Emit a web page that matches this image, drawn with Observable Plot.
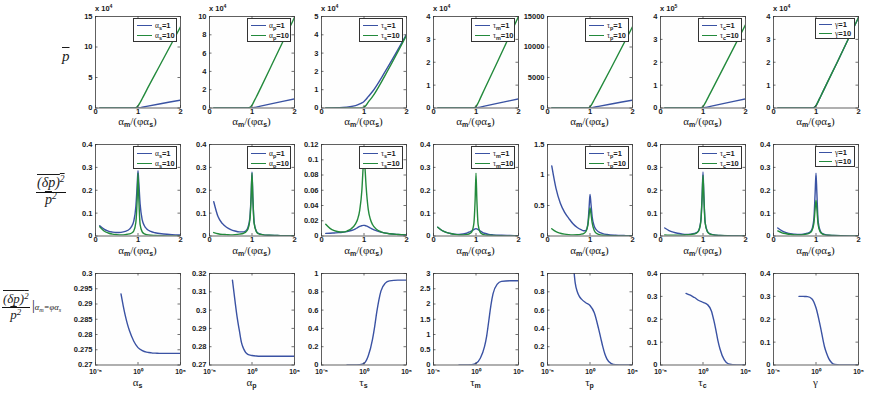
<!DOCTYPE html>
<html><head><meta charset="utf-8">
<script src="https://cdn.jsdelivr.net/npm/d3@7"></script>
<script src="https://cdn.jsdelivr.net/npm/@observablehq/plot@0.6"></script>
<style>
body{margin:0;background:#fff;}
#fig{position:relative;width:872px;height:395px;overflow:hidden;background:#fff;font-family:"Liberation Sans",Arial,sans-serif;color:#1a1a1a;}
.legend{position:absolute;box-sizing:border-box;background:#fff;border:0.8px solid #333;}
.entry{position:absolute;left:3px;height:10px;display:flex;align-items:center;font:bold 7.5px "Liberation Sans",Arial,sans-serif;white-space:nowrap;}
.sw{width:15px;height:0;border-top:1.6px solid;margin-right:3px;}
.gk{font-family:"Liberation Serif","DejaVu Serif",serif;font-weight:normal;}
sub{font-size:0.72em;vertical-align:-0.35em;line-height:0;}
sup{font-size:0.68em;vertical-align:0.5em;line-height:0;}
.mult{position:absolute;font:bold 7.5px "Liberation Sans",Arial,sans-serif;white-space:nowrap;}
.xt{position:absolute;transform:translate(-50%,-50%);white-space:nowrap;font:11px/1 "Liberation Serif",serif;}
.xt sub{font:bold 7px "Liberation Sans",Arial,sans-serif;vertical-align:-0.4em;line-height:0;}
.rl{position:absolute;font:italic 15px "Liberation Serif","DejaVu Serif",serif;line-height:1;white-space:nowrap;}
.frac{position:absolute;text-align:center;font:italic 14px "Liberation Serif","DejaVu Serif",serif;line-height:1.05;}
.frac .num{border-bottom:0.9px solid #111;padding:0 1px 1px;}
.ov{text-decoration:overline;text-decoration-thickness:0.8px;}
</style>
</head><body><div id="fig"></div>
<script>
// ---------------- DATA ----------------
const PARAM_SYMBOL = ["α","α","τ","τ","τ","τ","γ"];
const PARAM_SUB    = ["s","p","s","m","p","c",""];
const LEGEND_VALUES = ["1","10"];

// Row 1: mean p vs alpha_m/(phi alpha_s); values in units of 10^MEAN_EXPONENT
const X_MEAN = [0.1,0.5,0.8,0.9,0.95,1.0,1.05,1.1,1.2,1.5,2.0];
const MEAN_EXPONENT = [4,4,4,4,null,5,4];
const MEAN_Y_MAX = [15,10,5,4,15000,4,4];
const MEAN_Y_TICKS = [[0,5,10,15],[0,2,4,6,8,10],[0,1,2,3,4,5],[0,1,2,3,4],[0,5000,10000,15000],[0,1,2,3,4],[0,1,2,3,4]];
const mean_as_1  = [0,0,0,0,0,0,0.06,0.13,0.26,0.65,1.3];
const mean_as_10 = [0,0,0,0,0.05,0.35,0.9,1.55,2.9,6.8,13.3];
const mean_ap_1  = [0,0,0,0,0,0,0.05,0.1,0.2,0.5,1.0];
const mean_ap_10 = [0,0,0,0,0.06,0.32,0.75,1.2,2.15,5.05,9.9];
const mean_ts_1  = [0,0.03,0.13,0.22,0.28,0.36,0.48,0.62,0.9,2.0,4.02];
const mean_ts_10 = [0,0,0,0.005,0.015,0.05,0.15,0.32,0.62,1.8,3.97];
const mean_tm_1  = [0,0,0,0,0,0,0.02,0.04,0.08,0.2,0.4];
const mean_tm_10 = [0,0,0,0,0.01,0.06,0.22,0.42,0.82,2.0,4.0];
const mean_tp_1  = [0,0,0,0,0,0,65,130,260,650,1300];
const mean_tp_10 = [0,0,0,0,15,200,700,1350,2650,6600,13300];
const mean_tc_1  = [0,0,0,0,0,0,0.02,0.04,0.08,0.2,0.4];
const mean_tc_10 = [0,0,0,0,0.01,0.06,0.21,0.39,0.75,1.83,3.64];
const mean_g_1   = [0,0,0,0,0.02,0.1,0.28,0.47,0.86,2.0,3.95];
const mean_g_10  = [0,0,0,0,0.02,0.1,0.28,0.47,0.86,2.0,3.96];

// Row 2: relative variance vs alpha_m/(phi alpha_s)
const X_VAR = [0.1,0.2,0.3,0.4,0.5,0.6,0.7,0.8,0.85,0.9,0.95,0.98,1.0,1.02,1.05,1.1,1.15,1.2,1.3,1.4,1.6,1.8,2.0];
const VAR_Y_MAX = [0.4,0.4,0.12,0.4,1.5,0.4,0.4];
const VAR_Y_TICKS = [[0,0.1,0.2,0.3,0.4],[0,0.1,0.2,0.3,0.4],[0,0.02,0.04,0.06,0.08,0.1,0.12],[0,0.1,0.2,0.3,0.4],[0,0.5,1,1.5],[0,0.1,0.2,0.3,0.4],[0,0.1,0.2,0.3,0.4]];
const var_as_1  = [0.045,0.03,0.021,0.017,0.015,0.016,0.02,0.03,0.042,0.065,0.13,0.22,0.285,0.23,0.14,0.07,0.045,0.032,0.02,0.014,0.009,0.006,0.004];
const var_as_10 = [0.04,0.022,0.013,0.008,0.006,0.005,0.006,0.009,0.013,0.022,0.06,0.16,0.275,0.16,0.05,0.018,0.009,0.006,0.003,0.002,0.001,0.0005,0.0003];
const var_ap_1  = [0.15,0.085,0.055,0.038,0.028,0.022,0.018,0.018,0.022,0.035,0.08,0.18,0.28,0.17,0.06,0.022,0.012,0.008,0.004,0.003,0.002,0.001,0.001];
const var_ap_10 = [0.015,0.01,0.007,0.006,0.005,0.006,0.008,0.012,0.017,0.028,0.07,0.17,0.275,0.165,0.055,0.02,0.01,0.007,0.004,0.003,0.002,0.001,0.001];
const var_ts_1  = [0.0034,0.0036,0.004,0.0044,0.005,0.0058,0.0072,0.0095,0.011,0.0125,0.0135,0.014,0.014,0.0138,0.0133,0.012,0.0105,0.009,0.0068,0.005,0.003,0.002,0.0013];
const var_ts_10 = [0.0154,0.01,0.007,0.0056,0.0052,0.0065,0.0095,0.016,0.022,0.034,0.06,0.09,0.104,0.092,0.065,0.035,0.022,0.015,0.0085,0.0055,0.003,0.002,0.0015];
const var_tm_1  = [0.038,0.024,0.016,0.011,0.008,0.007,0.009,0.014,0.018,0.022,0.028,0.031,0.032,0.031,0.028,0.022,0.016,0.012,0.007,0.005,0.003,0.002,0.001];
const var_tm_10 = [0.038,0.024,0.016,0.011,0.007,0.005,0.005,0.007,0.01,0.018,0.055,0.16,0.275,0.16,0.05,0.016,0.008,0.005,0.003,0.002,0.001,0.0005,0.0003];
const var_tp_1  = [1.15,0.78,0.54,0.39,0.29,0.2,0.14,0.1,0.085,0.09,0.2,0.48,0.68,0.55,0.32,0.16,0.1,0.07,0.04,0.025,0.012,0.007,0.004];
const var_tp_10 = [0.12,0.07,0.045,0.03,0.022,0.019,0.02,0.03,0.04,0.07,0.18,0.36,0.46,0.38,0.22,0.09,0.045,0.028,0.012,0.007,0.003,0.002,0.001];
const var_tc_1  = [0.035,0.024,0.017,0.012,0.009,0.007,0.008,0.011,0.015,0.025,0.07,0.18,0.28,0.18,0.06,0.022,0.011,0.007,0.004,0.002,0.001,0.001,0.0005];
const var_tc_10 = [0.005,0.004,0.004,0.004,0.004,0.005,0.006,0.009,0.013,0.023,0.065,0.17,0.265,0.17,0.058,0.02,0.01,0.006,0.003,0.002,0.001,0.0005,0.0003];
const var_g_1   = [0.035,0.022,0.015,0.01,0.008,0.007,0.008,0.012,0.016,0.027,0.075,0.19,0.275,0.19,0.065,0.022,0.011,0.007,0.003,0.002,0.001,0.0006,0.0004];
const var_g_10  = [0.022,0.014,0.01,0.007,0.005,0.005,0.006,0.009,0.013,0.022,0.055,0.12,0.155,0.12,0.05,0.018,0.009,0.005,0.003,0.002,0.001,0.0005,0.0003];

// Row 3: relative variance at alpha_m = phi alpha_s vs parameter (log x)
const X_SENS = [5e-3,1e-2,1.8e-2,3.2e-2,5.6e-2,0.1,0.32,1,3.2,10,18,32,56,100,320,1e3,1e4,1e5];
const SENS_X_TICKS = [1e-5,1,1e5];
const SENS_X_TICK_LABELS = ["10⁻⁵","10⁰","10⁵"];
const SENS_Y_DOMAIN = [[0.27,0.3],[0.27,0.32],[0,1],[0,3],[0,1],[0,0.4],[0,0.4]];
const SENS_Y_TICKS = [[0.27,0.275,0.28,0.285,0.29,0.295,0.3],[0.27,0.28,0.29,0.3,0.31,0.32],[0,0.2,0.4,0.6,0.8,1],[0,0.5,1,1.5,2,2.5,3],[0,0.2,0.4,0.6,0.8,1],[0,0.1,0.2,0.3,0.4],[0,0.1,0.2,0.3,0.4]];
const sens_as = [null,0.2933,0.2895,0.2862,0.2835,0.2812,0.2778,0.2757,0.2747,0.2742,0.2741,0.274,0.2739,0.2739,0.2738,0.2738,0.2738,0.2738];
const sens_ap = [0.3164,0.305,0.296,0.289,0.2825,0.279,0.2758,0.2752,0.2749,0.2748,0.2748,0.2748,0.2748,0.2748,0.2748,0.2748,0.2748,0.2748];
const sens_ts = [null,0,0,0,0,0.001,0.004,0.017,0.1,0.28,0.42,0.58,0.71,0.81,0.895,0.92,0.928,0.928];
const sens_tm = [null,0,0,0,0,0.002,0.01,0.05,0.22,0.6,0.95,1.45,1.95,2.33,2.65,2.74,2.76,2.76];
const sens_tp = [null,1.15,0.9,0.8,0.75,0.72,0.68,0.65,0.57,0.4,0.3,0.2,0.12,0.065,0.015,0.002,0,0];
const sens_tc = [null,0.313,0.309,0.305,0.3,0.295,0.282,0.274,0.265,0.235,0.198,0.155,0.108,0.07,0.022,0.005,0.0003,0];
const sens_g  = [null,0.3,0.3,0.3,0.2995,0.299,0.29,0.25,0.17,0.08,0.05,0.028,0.014,0.005,0.001,0,0,0];

const MEAN_SERIES = [[mean_as_1,mean_as_10],[mean_ap_1,mean_ap_10],[mean_ts_1,mean_ts_10],[mean_tm_1,mean_tm_10],[mean_tp_1,mean_tp_10],[mean_tc_1,mean_tc_10],[mean_g_1,mean_g_10]];
const VAR_SERIES = [[var_as_1,var_as_10],[var_ap_1,var_ap_10],[var_ts_1,var_ts_10],[var_tm_1,var_tm_10],[var_tp_1,var_tp_10],[var_tc_1,var_tc_10],[var_g_1,var_g_10]];
const SENS_SERIES = [sens_as,sens_ap,sens_ts,sens_tm,sens_tp,sens_tc,sens_g];
const LIN_X_TICKS = [0,1,2];

// ---------------- LAYOUT / STYLE ----------------
const COLORS = ["#3a52a3","#238a3c"];
const COL_LEFT = [95,209,321,433,547,660,773];
const ROW_TOP = [15.5,143.5,272.5];
const FW = 85, FH = 91.5;
const ML = 30, MR = 12, MT = 6, MB = 16;
const fig = document.getElementById("fig");
const fmtNum = d => String(+d.toFixed(6));

function el(tag, cls, html, left, top) {
  const e = document.createElement(tag);
  if (cls) e.className = cls;
  if (html != null) e.innerHTML = html;
  e.style.position = "absolute";
  e.style.left = left + "px"; e.style.top = top + "px";
  fig.appendChild(e);
  return e;
}

function panel(row, col, xs, xScale, xTicks, xFmt, yDomain, yTicks, yFmt, series, pad, xFont) {
  const data = series.map((vals, k) => xs.map((x, i) => ({x, y: vals[i], k})));
  const plot = Plot.plot({
    width: FW + ML + MR, height: FH + MT + MB,
    marginLeft: ML, marginRight: MR, marginTop: MT, marginBottom: MB,
    x: {...xScale, label: null},
    y: {domain: yDomain, label: null},
    style: {background: "transparent", overflow: "visible", fontFamily: "Liberation Sans, Arial, sans-serif", fontSize: "7.5px", fontWeight: "bold", color: "#1a1a1a"},
    marks: [
      Plot.frame({fill: "#fefefe"}),
      ...data.map((d, k) => Plot.line(d, {x: "x", y: "y", stroke: series.length > 1 ? COLORS[k] : COLORS[0], strokeWidth: 1.4, curve: "monotone-x", clip: true})),
      Plot.ruleX(xTicks, {insetTop: FH - 2.5, stroke: "#333", strokeWidth: 0.7}),
      Plot.ruleX(xTicks, {insetBottom: FH - 2.5, stroke: "#333", strokeWidth: 0.7}),
      Plot.ruleY(yTicks, {insetRight: FW - 2.5, stroke: "#333", strokeWidth: 0.7}),
      Plot.ruleY(yTicks, {insetLeft: FW - 2.5, stroke: "#333", strokeWidth: 0.7}),
      Plot.axisX(xTicks, {tickSize: 0, tickPadding: pad, tickFormat: xFmt, label: null, fontSize: xFont}),
      Plot.axisY(yTicks, {tickSize: 0, tickPadding: 3, tickFormat: yFmt, label: null}),
      Plot.frame({stroke: "#3a3a3a", strokeWidth: 0.8})
    ]
  });
  plot.style.position = "absolute";
  plot.style.left = (COL_LEFT[col] - ML) + "px";
  plot.style.top = (ROW_TOP[row] - MT) + "px";
  fig.appendChild(plot);
}

function legend(row, col) {
  const narrow = PARAM_SUB[col] === "";
  const w = narrow ? 40 : 44, h = narrow ? 21 : (row === 0 ? 24 : 23);
  const box = el("div", "legend", null, COL_LEFT[col] + FW - 3 - w, ROW_TOP[row] + 2);
  box.style.width = w + "px"; box.style.height = h + "px";
  LEGEND_VALUES.forEach((v, k) => {
    const e = document.createElement("div");
    e.className = "entry";
    e.style.top = (narrow ? 1 + k * 9 : 1.5 + k * 10.5) + "px";
    const sub = PARAM_SUB[col] ? `<sub>${PARAM_SUB[col]}</sub>` : "";
    e.innerHTML = `<span class="sw" style="border-color:${COLORS[k]};${narrow ? "width:13px" : ""}"></span><span><span class="gk">${PARAM_SYMBOL[col]}</span>${sub}=${v}</span>`;
    box.appendChild(e);
  });
}

const XTITLE = `<span class="gk">α</span><sub>m</sub>/(<span class="gk">φα</span><sub>s</sub>)`;

for (let c = 0; c < 7; c++) {
  // Row 1
  panel(0, c, X_MEAN, {domain: [0, 2]}, LIN_X_TICKS, fmtNum, [0, MEAN_Y_MAX[c]], MEAN_Y_TICKS[c], fmtNum, MEAN_SERIES[c], 1, 7.5);
  legend(0, c);
  if (MEAN_EXPONENT[c] != null) el("div", "mult", `x 10<sup>${MEAN_EXPONENT[c]}</sup>`, COL_LEFT[c], ROW_TOP[0] - 12);
  el("div", "xt", XTITLE, COL_LEFT[c] + FW / 2, ROW_TOP[0] + FH + 14);
  // Row 2
  panel(1, c, X_VAR, {domain: [0, 2]}, LIN_X_TICKS, fmtNum, [0, VAR_Y_MAX[c]], VAR_Y_TICKS[c], fmtNum, VAR_SERIES[c], 1, 7.5);
  legend(1, c);
  el("div", "xt", XTITLE, COL_LEFT[c] + FW / 2, ROW_TOP[1] + FH + 14.5);
  // Row 3
  panel(2, c, X_SENS, {type: "log", domain: [1e-5, 1e5]}, SENS_X_TICKS, d => SENS_X_TICK_LABELS[SENS_X_TICKS.indexOf(d)], SENS_Y_DOMAIN[c], SENS_Y_TICKS[c], fmtNum, [SENS_SERIES[c]], 4.5, 6.8);
  const sub = PARAM_SUB[c] ? `<sub>${PARAM_SUB[c]}</sub>` : "";
  el("div", "xt", `<span class="gk">${PARAM_SYMBOL[c]}</span>${sub}`, COL_LEFT[c] + FW / 2, ROW_TOP[2] + FH + 17.5);
}

// Row labels
el("div", "rl", `<span class="ov">p</span>`, 62, 49);
el("div", "frac", `<div class="num"><span class="ov">(δp)<sup>2</sup></span></div><div><span class="ov">p</span><sup>2</sup></div>`, 36, 176);
el("div", "frac", `<div class="num"><span class="ov">(δp)<sup>2</sup></span></div><div><span class="ov">p</span><sup>2</sup></div>`, 2, 292).style.fontSize = "13px";
el("div", "rl", `<span style="font-style:normal;font-size:14px">|</span><span style="font-size:8.5px"><span>α</span><sub>m</sub>=<span>φα</span><sub>s</sub></span>`, 32, 298);
</script>
</body></html>
